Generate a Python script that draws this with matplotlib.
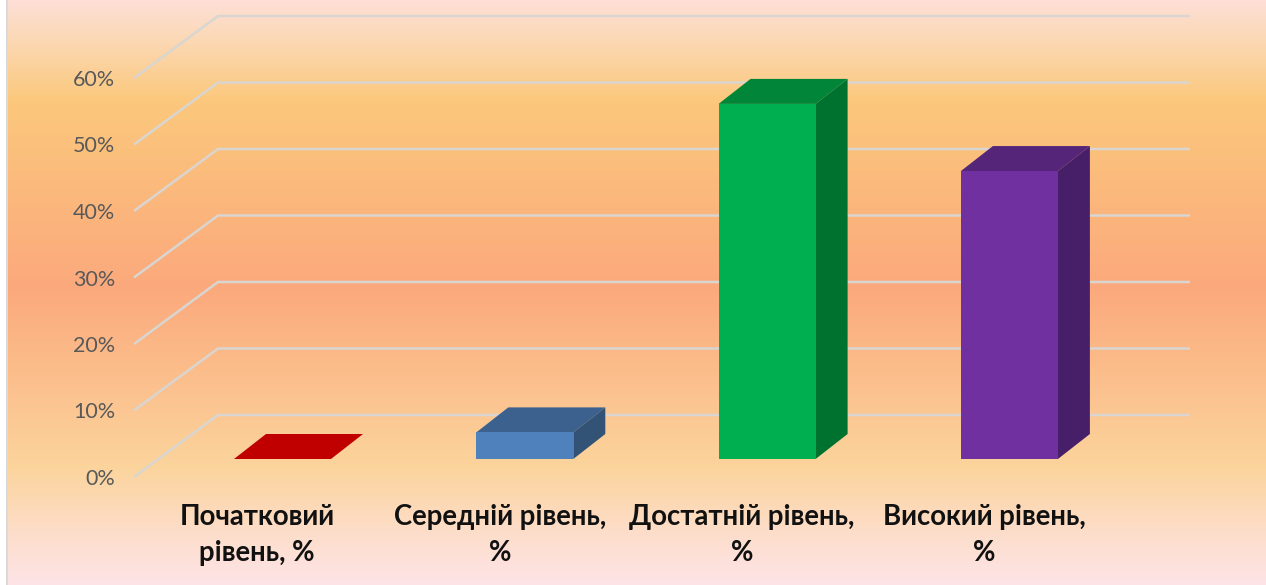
"""3D-look bar chart of achievement levels on a warm gradient background."""
import matplotlib
matplotlib.use("Agg")
import matplotlib.pyplot as plt
from matplotlib.colors import LinearSegmentedColormap
from matplotlib.patches import Polygon, Rectangle
import numpy as np

categories = ["Початковий\nрівень, %", "Середній рівень,\n%", "Достатній рівень,\n%", "Високий рівень,\n%"]
values = [0, 4, 53.4, 43.3]
ticks = [0, 10, 20, 30, 40, 50, 60]
tick_labels = ["0%", "10%", "20%", "30%", "40%", "50%", "60%"]
front_colors = ["#C00000", "#4F81BD", "#00B050", "#7030A0"]
top_colors = ["#C00000", "#3C618F", "#008539", "#552579"]
side_colors = ["#C00000", "#335376", "#00722F", "#471F68"]

W, H = 1266, 585
PX_X = 242.3   # pixels per category
PX_Y = 6.65    # pixels per percent
X0, Y0 = 282.5, 459
FONT = ["Lato", "Open Sans", "DejaVu Sans"]

fig = plt.figure(figsize=(W / 100, H / 100), dpi=100)
ax = fig.add_axes([0, 0, 1, 1])
ax.set_xlim(-X0 / PX_X, (W - X0) / PX_X)
ax.set_ylim((Y0 - H) / PX_Y, Y0 / PX_Y)
ax.axis("off")

# background gradient, top to bottom
stops = [(0, "#FDDFD6"), (0.06, "#FBD9B8"), (0.17, "#FBC87C"), (0.49, "#FBA97C"),
         (0.8, "#FBD49C"), (0.93, "#FDDFD0"), (1, "#FDE3E6")]
cmap = LinearSegmentedColormap.from_list("bg", stops)
grad = np.linspace(0, 1, 585).reshape(-1, 1)
xa, xb = ax.get_xlim()
ya, yb = ax.get_ylim()
ax.imshow(grad, cmap=cmap, aspect="auto", extent=[xa, xb, ya, yb], origin="upper", zorder=0)
ax.add_patch(Rectangle((xa, ya), 6 / PX_X, yb - ya, fc="white", ec="none", zorder=0.5))
ax.add_patch(Rectangle((xa + 6 / PX_X, ya), 2 / PX_X, yb - ya, fc="#DADADA", ec="none", zorder=0.5))
ax.set_xlim(xa, xb)
ax.set_ylim(ya, yb)

# wall gridlines: slanted part on the side wall, then flat along the back wall
gx = [(134 - X0) / PX_X, (218 - X0) / PX_X, (1190 - X0) / PX_X]
front_off = -18 / PX_Y
back_off = 44 / PX_Y
for t, lab in zip(ticks, tick_labels):
    ax.plot(gx, [t + front_off, t + back_off, t + back_off], color="#D9D5D0", lw=1.8, zorder=1,
            solid_capstyle="butt", solid_joinstyle="miter")
    ax.text(gx[0] - 19 / PX_X, t + front_off - 2 / PX_Y, lab, ha="right", va="center",
            fontsize=15.5, color="#595959", family=FONT)

# bars as front / top / side faces
bar_w = 97 / PX_X
dx = 32 / PX_X
dy = 25 / PX_Y
for i, v in enumerate(values):
    l, r = i - bar_w / 2, i + bar_w / 2
    ax.add_patch(Polygon([(l, v), (l + dx, v + dy), (r + dx, v + dy), (r, v)],
                         fc=top_colors[i], ec="none", zorder=3))
    if v > 0:
        ax.add_patch(Polygon([(r, 0), (r + dx, dy), (r + dx, v + dy), (r, v)],
                             fc=side_colors[i], ec="none", zorder=3))
        ax.add_patch(Rectangle((l, 0), bar_w, v, fc=front_colors[i], ec="none", zorder=3))

# category labels
label_px = [257, 500, 742, 984]
for i, name in enumerate(categories):
    ax.text((label_px[i] - X0) / PX_X, (Y0 - 535) / PX_Y, name, ha="center", va="center",
            fontsize=19.8, fontweight="bold", color="#111111", linespacing=1.5,
            family=FONT)

fig.savefig("out.png", dpi=100)
